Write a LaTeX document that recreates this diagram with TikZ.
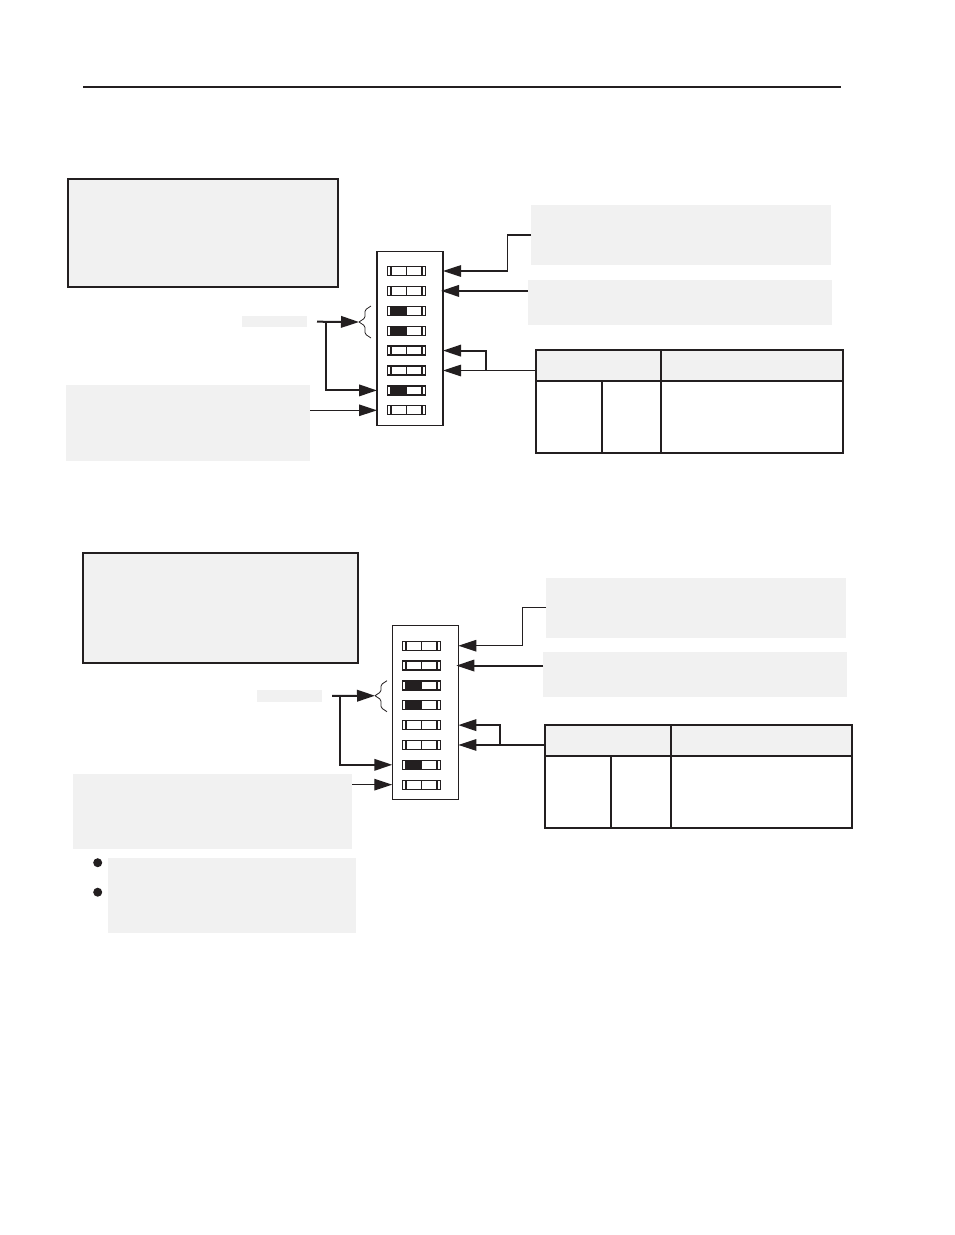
\documentclass[tikz,border=0pt]{standalone}
\usetikzlibrary{arrows.meta}
\definecolor{notegrey}{HTML}{F1F1F1}
\definecolor{ink}{HTML}{231F20}
\tikzset{
  note/.style={fill=notegrey,inner sep=0pt,outer sep=0pt},
  framednote/.style={note,draw=ink,line width=2pt},
  tablebox/.style={inner sep=0pt,outer sep=0pt,minimum width=307pt,minimum height=103pt},
  dipbody/.style={draw=ink,line width=1.4pt,inner sep=0pt,outer sep=0pt,minimum width=66pt,minimum height=174pt},
  slider/.style={draw=ink,line width=1.3pt,inner sep=0pt,outer sep=0pt,minimum width=38pt,minimum height=9pt},
  lead/.style={draw=ink,line width=2pt},
  thinlead/.style={draw=ink,line width=1.2pt},
  bracket/.style={draw=ink,line width=0.8pt,rounded corners=1.5pt},
}
\begin{document}
\begin{tikzpicture}[x=1pt,y=-1pt,>={Triangle[length=18pt,width=11.5pt]}]
  \useasboundingbox (0,0) rectangle (954,1235);
  \draw[ink,line width=2.4pt] (83,87) -- (841,87);

  % first setting
  \node[framednote,minimum width=270pt,minimum height=108pt] (p1intro) at (203,233) {};
  \node[note,minimum width=300pt,minimum height=60pt] (p1upper) at (681,235) {};
  \node[note,minimum width=304pt,minimum height=45pt] (p1lower) at (680,302.5) {};
  \node[note,minimum width=65pt,minimum height=11pt] (p1tag) at (274.5,321.7) {};
  \node[note,minimum width=244pt,minimum height=76pt] (p1hint) at (188,423) {};
  \node[tablebox] (p1table) at (689.5,401.6) {};
  \fill[notegrey] (p1table.north west) rectangle ([yshift=-31pt]p1table.north east);
  \draw[ink,line width=2pt] (p1table.north west) rectangle (p1table.south east);
  \draw[ink,line width=2pt] ([yshift=-31pt]p1table.north west) -- ([yshift=-31pt]p1table.north east);
  \draw[ink,line width=2pt] ([xshift=125pt]p1table.north west) -- ([xshift=125pt]p1table.south west);
  \draw[ink,line width=2pt] ([shift={(66pt,-31pt)}]p1table.north west) -- ([xshift=66pt]p1table.south west);

  \node[dipbody] (p1dip) at (410,338.3) {};
  \foreach \on [count=\i] in {0,0,1,1,0,0,1,0} {
    \node[slider] (p1s\i) at (406.5,{271+19.9*(\i-1)}) {};
    \ifnum\on=1 \fill[ink] ([xshift=3.5pt]p1s\i.north west) rectangle (p1s\i.south); \fi
    \draw[ink,line width=1.8pt] ([xshift=3.5pt]p1s\i.north west) -- ([xshift=3.5pt]p1s\i.south west)
      ([xshift=-3.5pt]p1s\i.north east) -- ([xshift=-3.5pt]p1s\i.south east);
    \draw[ink,line width=0.8pt] (p1s\i.north) -- (p1s\i.south);
  }

  \draw[thinlead,->] (p1upper.west) -- ++(-23.7,0) |- (p1dip.east |- p1s1);
  \draw[lead,->] (p1lower.west |- p1s2) -- ([xshift=-2pt]p1dip.east |- p1s2);
  \draw[thinlead,->] (p1table.west |- p1s6) -- (p1dip.east |- p1s6);
  \path (p1table.west |- p1s6) ++(-50,0) coordinate (p1fork);
  \draw[lead,->] (p1fork) |- (p1dip.east |- p1s5);

  \coordinate (p1tip) at (359,322);
  \draw[bracket] (p1tip) -- ++(6,-4) -- ++(0,-8) -- ++(6,-4)
    (p1tip) -- ++(6,4) -- ++(0,8) -- ++(6,4);
  \draw[lead,->] ([xshift=10pt]p1tag.east) -- (p1tip);
  \draw[lead,->] ([xshift=19pt]p1tag.east) |- (p1dip.west |- p1s7);
  \draw[thinlead,->] (p1hint.east |- p1s8) -- (p1dip.west |- p1s8);

  % second setting
  \node[framednote,minimum width=275pt,minimum height=109.7pt] (p2intro) at (220.5,607.8) {};
  \node[note,minimum width=300pt,minimum height=59.7pt] (p2upper) at (696,607.8) {};
  \node[note,minimum width=304pt,minimum height=44.7pt] (p2lower) at (695,674.3) {};
  \node[note,minimum width=65pt,minimum height=11.7pt] (p2tag) at (289.5,695.8) {};
  \node[note,minimum width=279pt,minimum height=75pt] (p2hint) at (212.5,811.5) {};
  \node[note,minimum width=247.7pt,minimum height=75pt] (p2items) at (232.2,895.5) {};
  \fill[ink] (97.7,862.7) circle (4.5pt);
  \fill[ink] (97.7,892.2) circle (4.5pt);
  \node[tablebox] (p2table) at (698.5,776.2) {};
  \fill[notegrey] (p2table.north west) rectangle ([yshift=-31pt]p2table.north east);
  \draw[ink,line width=2pt] (p2table.north west) rectangle (p2table.south east);
  \draw[ink,line width=2pt] ([yshift=-31pt]p2table.north west) -- ([yshift=-31pt]p2table.north east);
  \draw[ink,line width=2pt] ([xshift=126pt]p2table.north west) -- ([xshift=126pt]p2table.south west);
  \draw[ink,line width=2pt] ([shift={(66pt,-31pt)}]p2table.north west) -- ([xshift=66pt]p2table.south west);

  \node[dipbody] (p2dip) at (425.3,712.2) {};
  \foreach \on [count=\i] in {0,0,1,1,0,0,1,0} {
    \node[slider] (p2s\i) at (421.5,{645.7+19.85*(\i-1)}) {};
    \ifnum\on=1 \fill[ink] ([xshift=3.5pt]p2s\i.north west) rectangle (p2s\i.south); \fi
    \draw[ink,line width=1.8pt] ([xshift=3.5pt]p2s\i.north west) -- ([xshift=3.5pt]p2s\i.south west)
      ([xshift=-3.5pt]p2s\i.north east) -- ([xshift=-3.5pt]p2s\i.south east);
    \draw[ink,line width=0.8pt] (p2s\i.north) -- (p2s\i.south);
  }

  \draw[thinlead,->] (p2upper.west) -- ++(-23.7,0) |- (p2dip.east |- p2s1);
  \draw[lead,->] (p2lower.west |- p2s2) -- ([xshift=-2pt]p2dip.east |- p2s2);
  \draw[thinlead,->] (p2table.west |- p2s6) -- (p2dip.east |- p2s6);
  \path (p2table.west |- p2s6) ++(-45,0) coordinate (p2fork);
  \draw[lead,->] (p2fork) |- (p2dip.east |- p2s5);

  \coordinate (p2tip) at (375,695.7);
  \draw[bracket] (p2tip) -- ++(6,-4) -- ++(0,-7) -- ++(6,-4)
    (p2tip) -- ++(6,4) -- ++(0,8) -- ++(6,4);
  \draw[lead,->] ([xshift=10pt]p2tag.east) -- (p2tip);
  \draw[lead,->] ([xshift=18pt]p2tag.east) |- (p2dip.west |- p2s7);
  \draw[thinlead,->] (p2hint.east |- p2s8) -- (p2dip.west |- p2s8);
\end{tikzpicture}
\end{document}
